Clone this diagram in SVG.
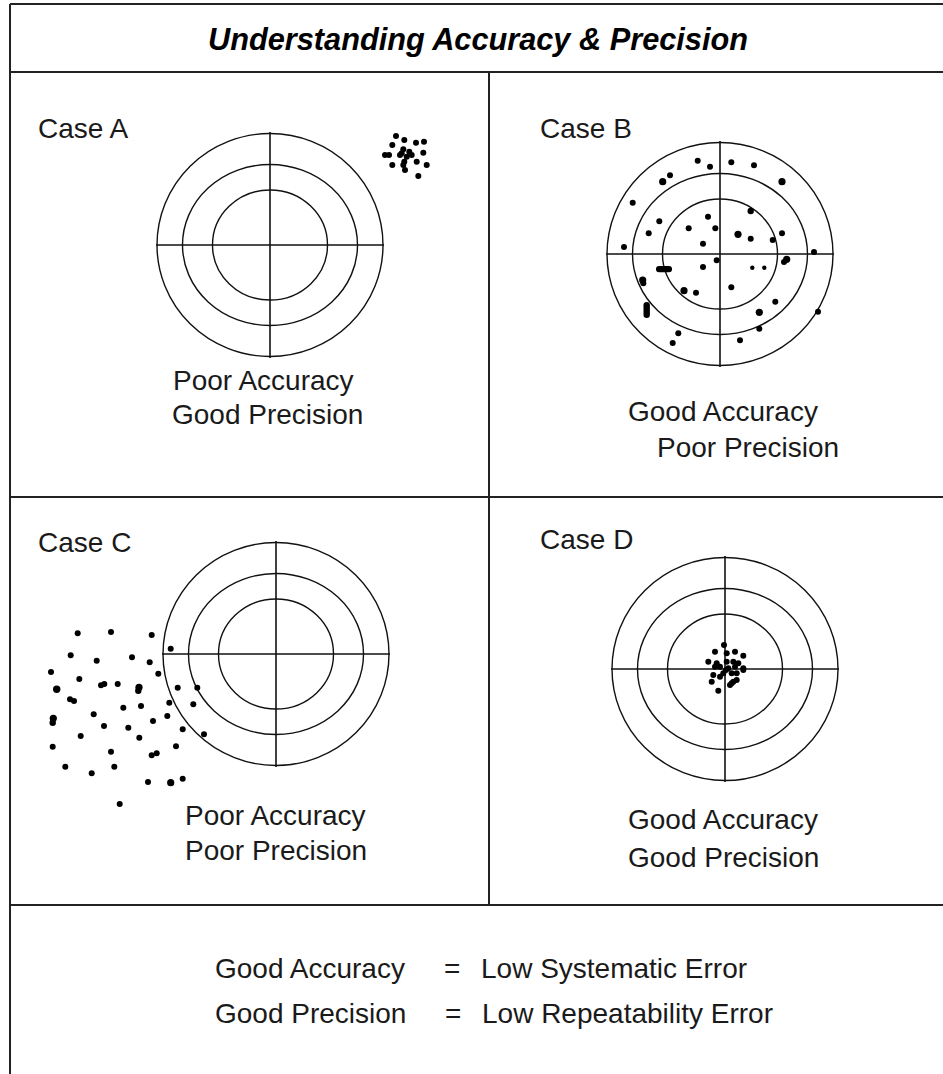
<svg xmlns="http://www.w3.org/2000/svg" width="943" height="1074" viewBox="0 0 943 1074">
  <style>
    .frame { fill: none; stroke: #222; stroke-width: 2; }
    .ring { fill: none; stroke: #111; stroke-width: 1.4; }
    .cross { stroke: #111; stroke-width: 1.6; }
    .lbl { font-family: "Liberation Sans", Arial, sans-serif; font-size: 28px; fill: #1a1a1a; }
    .title { font-family: "Liberation Sans", Arial, sans-serif; font-size: 31px; font-weight: bold; font-style: italic; fill: #000; }
    .dots circle, .dots rect { fill: #000; }
  </style>
  <defs>
    <!-- target: three rings and a cross hair, centred on the origin -->
    <g id="target">
      <ellipse class="ring" cx="0" cy="0" rx="113" ry="111.5"/>
      <ellipse class="ring" cx="0" cy="0" rx="87.5" ry="80.5"/>
      <ellipse class="ring" cx="0" cy="0" rx="57.5" ry="55"/>
      <line class="cross" x1="-114" y1="0" x2="114" y2="0"/>
      <line class="cross" x1="0" y1="-113" x2="0" y2="113"/>
    </g>
  </defs>
  <rect width="943" height="1074" fill="#fff"/>

  <!-- table frame -->
  <g id="frame">
    <line class="frame" x1="10" y1="4" x2="943" y2="4"/>
    <line class="frame" x1="10" y1="4" x2="10" y2="1074"/>
    <line class="frame" x1="10" y1="72" x2="943" y2="72"/>
    <line class="frame" x1="10" y1="497" x2="943" y2="497"/>
    <line class="frame" x1="10" y1="905" x2="943" y2="905"/>
    <line class="frame" x1="489" y1="72" x2="489" y2="905"/>
  </g>

  <g id="title">
    <text class="title" x="478" y="50" text-anchor="middle" textLength="540" lengthAdjust="spacingAndGlyphs">Understanding Accuracy &amp; Precision</text>
  </g>

  <!-- Case A -->
  <g id="case-a">
    <text class="lbl" x="38" y="138">Case A</text>
    <use href="#target" x="270" y="245"/>
    <g class="dots">
      <circle cx="396" cy="136" r="3"/><circle cx="404.3" cy="140" r="3"/><circle cx="392.3" cy="145" r="3"/>
      <circle cx="416" cy="142.7" r="3"/><circle cx="424" cy="141.7" r="3"/><circle cx="403.3" cy="149.3" r="3"/>
      <circle cx="401.7" cy="153.3" r="3"/><circle cx="385" cy="155" r="3"/><circle cx="389" cy="155" r="3"/>
      <circle cx="409.3" cy="151.7" r="3"/><circle cx="406.7" cy="156.7" r="3"/><circle cx="423.3" cy="152.7" r="3"/>
      <circle cx="416.7" cy="161.7" r="3"/><circle cx="426.7" cy="165" r="3"/><circle cx="404.3" cy="161.7" r="3"/>
      <circle cx="392.3" cy="165" r="3"/><circle cx="405" cy="170" r="3"/><circle cx="418.3" cy="176" r="3"/>
      <circle cx="400" cy="155" r="3"/><circle cx="403.3" cy="165" r="3"/><circle cx="411.7" cy="155" r="3"/>
    </g>
    <text class="lbl" x="173" y="390">Poor Accuracy</text>
    <text class="lbl" x="172" y="424">Good Precision</text>
  </g>

  <!-- Case B -->
  <g id="case-b">
    <text class="lbl" x="540" y="138">Case B</text>
    <use href="#target" x="720" y="254"/>
    <g class="dots">
      <circle cx="697.7" cy="160.7" r="3"/><circle cx="710" cy="166.7" r="3"/><circle cx="731.3" cy="162.3" r="3"/>
      <circle cx="754" cy="165.3" r="3"/><circle cx="782" cy="181.7" r="3.6"/><circle cx="662.7" cy="181.7" r="3.6"/>
      <circle cx="670" cy="175.3" r="3"/><circle cx="632.7" cy="202.7" r="3"/><circle cx="750.7" cy="211" r="3.2"/>
      <circle cx="708" cy="216.7" r="3"/><circle cx="659.3" cy="221.3" r="3"/><circle cx="688.7" cy="228.3" r="3"/>
      <circle cx="715.3" cy="228.3" r="3"/><circle cx="648.7" cy="233.3" r="3"/><circle cx="738" cy="234.3" r="3.6"/>
      <circle cx="750.7" cy="238.7" r="3"/><circle cx="782" cy="233.3" r="3"/><circle cx="772.7" cy="240" r="3"/>
      <circle cx="703" cy="243.7" r="3"/><circle cx="624" cy="247" r="3"/><circle cx="814" cy="252" r="3"/>
      <circle cx="786.7" cy="259.3" r="3.6"/><circle cx="784" cy="262" r="3"/><circle cx="716.7" cy="260.3" r="3"/>
      <circle cx="703" cy="267" r="3"/><circle cx="752.3" cy="267.7" r="2.2"/><circle cx="764.3" cy="267.7" r="2.2"/>
      <rect x="656" y="266" width="16" height="6.2" rx="3"/>
      <circle cx="642.7" cy="280" r="3.6"/><circle cx="643.3" cy="283.3" r="3"/>
      <circle cx="684" cy="290.7" r="3.6"/><circle cx="696" cy="292.7" r="3"/><circle cx="731.3" cy="287.3" r="3"/>
      <circle cx="775.3" cy="301.7" r="3"/><circle cx="818" cy="311.7" r="3"/><circle cx="759.3" cy="312.3" r="3.6"/>
      <rect x="643.5" y="302" width="6.4" height="16" rx="3.2"/>
      <circle cx="759.3" cy="328.7" r="3"/><circle cx="678.3" cy="333.3" r="3"/><circle cx="672.7" cy="343" r="3"/>
      <circle cx="740" cy="340.3" r="3"/>
    </g>
    <text class="lbl" x="628" y="421">Good Accuracy</text>
    <text class="lbl" x="657" y="457">Poor Precision</text>
  </g>

  <!-- Case C -->
  <g id="case-c">
    <text class="lbl" x="38" y="552">Case C</text>
    <use href="#target" x="276" y="654"/>
    <g class="dots">
      <circle cx="77.7" cy="633.3" r="3"/><circle cx="111" cy="632" r="3"/><circle cx="151.7" cy="635" r="3"/>
      <circle cx="170.7" cy="648.7" r="3"/><circle cx="70.7" cy="655.3" r="3"/><circle cx="96.7" cy="660.7" r="3"/>
      <circle cx="132" cy="657.3" r="3"/><circle cx="149.7" cy="662.3" r="3"/><circle cx="51" cy="672" r="3"/>
      <circle cx="79.3" cy="679" r="3"/><circle cx="158.3" cy="673.7" r="3"/><circle cx="56.7" cy="689.3" r="3.7"/>
      <circle cx="101" cy="685.3" r="3"/><circle cx="104.3" cy="684" r="3"/><circle cx="117.7" cy="684" r="3"/>
      <circle cx="139" cy="687.3" r="3.6"/><circle cx="138.3" cy="690.7" r="3.2"/><circle cx="177.7" cy="687.7" r="3"/>
      <circle cx="197.3" cy="687.7" r="3"/><circle cx="70" cy="699.3" r="3"/><circle cx="74" cy="701" r="3"/>
      <circle cx="123.3" cy="707.7" r="3"/><circle cx="141" cy="706" r="3"/><circle cx="169.3" cy="702.7" r="3"/>
      <circle cx="193.3" cy="704.3" r="3"/><circle cx="93.7" cy="714.3" r="3"/><circle cx="53.3" cy="718.3" r="3.6"/>
      <circle cx="52.7" cy="722.7" r="3.2"/><circle cx="167.3" cy="716" r="3"/><circle cx="153" cy="721" r="3"/>
      <circle cx="104" cy="726" r="3"/><circle cx="128.3" cy="727.7" r="3"/><circle cx="182.7" cy="729.3" r="3"/>
      <circle cx="80.7" cy="736" r="3"/><circle cx="139.3" cy="737.7" r="3"/><circle cx="204" cy="734.3" r="3"/>
      <circle cx="52.7" cy="746.7" r="3"/><circle cx="111" cy="751.7" r="3"/><circle cx="176" cy="746.3" r="3"/>
      <circle cx="151.7" cy="755.3" r="3"/><circle cx="156.7" cy="753.3" r="3"/><circle cx="65.3" cy="766.7" r="3"/>
      <circle cx="114.3" cy="766.7" r="3"/><circle cx="91.7" cy="773.3" r="3"/><circle cx="148" cy="782" r="3"/>
      <circle cx="170.7" cy="782.7" r="3.6"/><circle cx="182.7" cy="778.7" r="3"/><circle cx="119.7" cy="804" r="3"/>
    </g>
    <text class="lbl" x="185" y="825">Poor Accuracy</text>
    <text class="lbl" x="185" y="860">Poor Precision</text>
  </g>

  <!-- Case D -->
  <g id="case-d">
    <text class="lbl" x="540" y="549">Case D</text>
    <use href="#target" x="725" y="669"/>
    <g class="dots">
      <circle cx="724" cy="645" r="3"/><circle cx="715" cy="651.7" r="3"/><circle cx="726.7" cy="653.3" r="3"/>
      <circle cx="735" cy="651.7" r="3"/><circle cx="743.3" cy="655.7" r="3"/><circle cx="708.3" cy="661.7" r="3"/>
      <circle cx="716.7" cy="663.3" r="3"/><circle cx="726.7" cy="661.7" r="3"/><circle cx="733.3" cy="661.7" r="3"/>
      <circle cx="738.3" cy="663.3" r="3"/><circle cx="720" cy="666.7" r="3"/><circle cx="728.3" cy="668.3" r="3"/>
      <circle cx="735" cy="666.7" r="3"/><circle cx="743.3" cy="668.3" r="3"/><circle cx="713.3" cy="675" r="3"/>
      <circle cx="723.3" cy="673.3" r="3"/><circle cx="731.7" cy="673.3" r="3"/><circle cx="736.7" cy="673.3" r="3"/>
      <circle cx="711.7" cy="681.7" r="3"/><circle cx="720" cy="676.7" r="3"/><circle cx="733.3" cy="681.7" r="3"/>
      <circle cx="730" cy="685" r="3"/><circle cx="736.7" cy="680" r="3"/><circle cx="718.3" cy="690.7" r="3"/>
      <circle cx="726" cy="670" r="3"/><circle cx="715" cy="666.7" r="3"/><circle cx="731.7" cy="683.3" r="3"/>
      <circle cx="743.3" cy="670" r="3"/>
    </g>
    <text class="lbl" x="628" y="829">Good Accuracy</text>
    <text class="lbl" x="628" y="867">Good Precision</text>
  </g>

  <!-- definitions -->
  <g id="legend">
    <text class="lbl" x="215" y="978">Good Accuracy</text>
    <text class="lbl" x="444" y="978">=</text>
    <text class="lbl" x="481" y="978">Low Systematic Error</text>
    <text class="lbl" x="215" y="1023">Good Precision</text>
    <text class="lbl" x="445" y="1023">=</text>
    <text class="lbl" x="482" y="1023">Low Repeatability Error</text>
  </g>
</svg>
